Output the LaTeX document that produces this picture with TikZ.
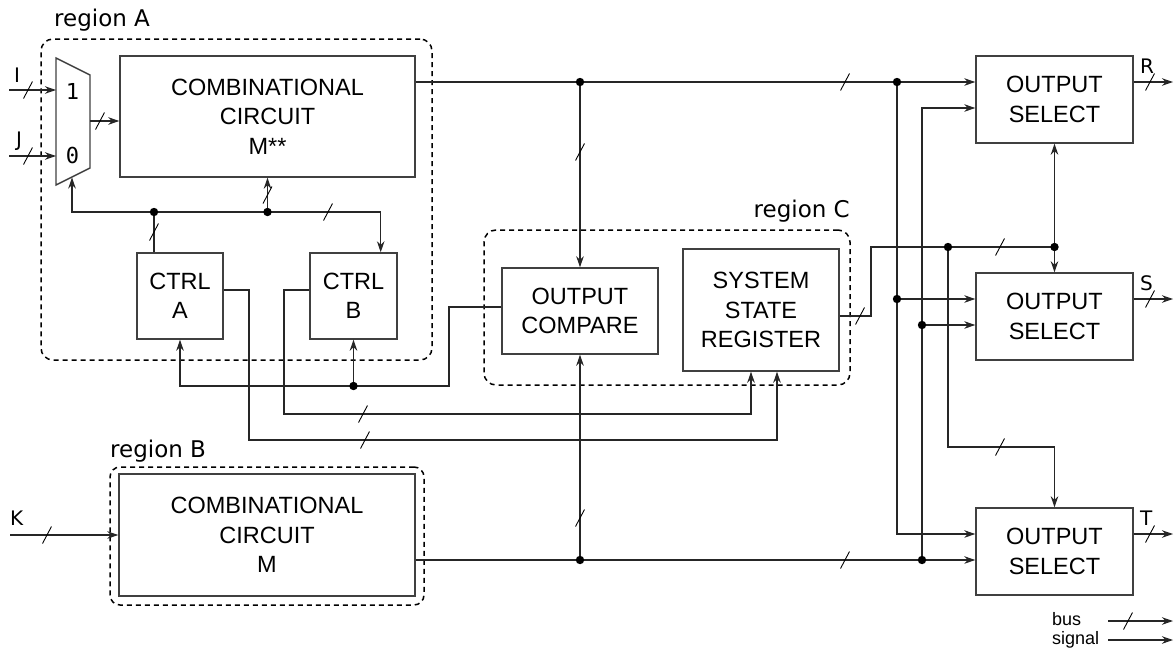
\documentclass[tikz,border=0pt]{standalone}
\usepackage{fontspec}
\setmainfont{Liberation Sans}
\newfontfamily\labelfont{DejaVu Sans}
\newfontfamily\digitfont{DejaVu Sans Mono}
\usetikzlibrary{arrows.meta,calc}

\begin{document}
\begin{tikzpicture}[x=1pt,y=-1pt,
  blk/.style={draw=black!75, line width=1.4pt, inner sep=0pt, align=center,
    font=\fontsize{23.5pt}{29.5pt}\selectfont},
  region/.style={draw=black, line width=1.5pt, dash pattern=on 5pt off 4pt,
    rounded corners=12pt, inner sep=0pt},
  wire/.style={draw=black!85, line width=1.2pt},
  sig/.style={wire, -{Stealth[length=11pt,width=7.5pt,inset=3.5pt]}},
  rlabel/.style={font=\labelfont\fontsize{23pt}{27pt}\selectfont, inner sep=0pt},
  plabel/.style={font=\labelfont\fontsize{20pt}{24pt}\selectfont, inner sep=0pt},
  digit/.style={font=\digitfont\fontsize{22pt}{26pt}\selectfont, inner sep=0pt},
  legend/.style={font=\fontsize{18pt}{18pt}\selectfont, inner sep=0pt},
  busmark/.pic={\draw[black, line width=0.9pt] (-4.5,8.5) -- (4.5,-8.5);}
]
\useasboundingbox (0,0) rectangle (1175,648);

% ---------- dashed regions ----------
\node[region, minimum width=391pt, minimum height=321pt] (regA) at (236.5,199.5) {};
\node[region, minimum width=314pt, minimum height=138pt, rounded corners=10pt] (regB) at (267,536) {};
\node[region, minimum width=366pt, minimum height=155pt] (regC) at (667,307.5) {};
\node[rlabel, anchor=base west] (labA) at (54,26) {region A};
\node[rlabel, anchor=base west] (labB) at (110,457) {region B};
\node[rlabel, anchor=base east] (labC) at (850,217) {region C};

% ---------- blocks ----------
\node[blk, minimum width=295pt, minimum height=121pt] (mss) at (267.5,116.5)
  {COMBINATIONAL\\CIRCUIT\\M**};
\node[blk, minimum width=296pt, minimum height=122pt] (mb) at (267,535)
  {COMBINATIONAL\\CIRCUIT\\M};
\node[blk, minimum width=86pt, minimum height=86pt] (cab) at (180,296) {CTRL\\A};
\node[blk, minimum width=87pt, minimum height=86pt] (cbb) at (353.5,296) {CTRL\\B};
\node[blk, minimum width=156pt, minimum height=86pt] (ocmp) at (580,311) {OUTPUT\\COMPARE};
\node[blk, minimum width=156pt, minimum height=122pt] (ssr) at (761,310)
  {SYSTEM\\STATE\\REGISTER};
\node[blk, minimum width=157pt, minimum height=87pt] (os1) at (1054.5,99.5) {OUTPUT\\SELECT};
\node[blk, minimum width=157pt, minimum height=87pt] (os2) at (1054.5,316.5) {OUTPUT\\SELECT};
\node[blk, minimum width=157pt, minimum height=87pt] (os3) at (1054.5,551.5) {OUTPUT\\SELECT};

% ---------- multiplexer ----------
\coordinate (mA) at (56,58);
\coordinate (mB) at (90,75);
\coordinate (mC) at (90,168);
\coordinate (mD) at (56,185);
\draw[draw=black!75, line width=1.4pt] (mA) -- (mB) -- (mC) -- (mD) -- cycle;
\coordinate (mx1) at (56,90);
\coordinate (mx0) at (56,156);
\coordinate (mxo) at (90,121);
\coordinate (mxs) at (72,177.5);
\node[digit] (d1) at (72.5,91) {1};
\node[digit] (d0) at (72.5,155) {0};

% ---------- junctions and bends ----------
\coordinate (j1) at (580,82);
\coordinate (j2) at (897,82);
\coordinate (j3) at (897,299);
\coordinate (j4) at (922,325);
\coordinate (j5) at (922,560);
\coordinate (j6) at (580,560);
\coordinate (j7) at (948,247);
\coordinate (j8) at (1054.5,247);
\coordinate (j9) at (154,212);
\coordinate (j10) at (267.5,212);
\coordinate (j11) at (353.5,386);
\coordinate (k1) at (871,247);
\coordinate (k2) at (1054.5,447);
\coordinate (k3) at (449,386);
\coordinate (k4) at (284,414);
\coordinate (k5) at (249,440);

% ---------- external inputs / outputs ----------
\coordinate (inI) at (9,90);
\coordinate (inJ) at (9,156);
\coordinate (inK) at (10,535);
\coordinate (outR) at (1173,82);
\coordinate (outS) at (1173,299);
\coordinate (outT) at (1173,534);
\node[plabel, anchor=base] (lI) at (17,82) {I};
\node[plabel, anchor=base] (lJ) at (19,146) {J};
\node[plabel, anchor=base west] (lK) at (10,525) {K};
\node[plabel, anchor=base west] (lR) at (1140,73) {R};
\node[plabel, anchor=base west] (lS) at (1140,290) {S};
\node[plabel, anchor=base west] (lT) at (1140,525) {T};

\draw[sig] (inI) -- (mx1);
\draw[sig] (inJ) -- (mx0);
\draw[sig] (inK) -- (mb.west);
\draw[sig] (mxo) -- (mss.west |- mxo);

% ---------- region A control bus ----------
\draw[sig] (j9) -| (mxs);
\draw[sig] (j9) -- (j10) -| ([xshift=-17pt]cbb.north east);
\draw[sig] (j10) -- (mss.south);
\draw[wire] (j9 |- cab.north) -- (j9);

% ---------- main buses ----------
\draw[sig] (j1 -| mss.east) -- (os1.west |- j1);
\draw[sig] (j1) -- (ocmp.north);
\draw[sig] (j5 -| mb.east) -- (os3.west |- j5);
\draw[sig] (j6) -- (ocmp.south);
\draw[sig] (j2) -- (j3) -- (os2.west |- j3);
\draw[sig] (j3) |- ([yshift=17.5pt]os3.west);
\draw[sig] (j5) -- (j4) -- (os2.west |- j4);
\draw[sig] (j4) |- ([yshift=-8.5pt]os1.west);

% ---------- state register feedback ----------
\draw[wire] ([yshift=-6pt]ssr.east) -| (k1) -- (j8);
\draw[sig] (j8) -- (os1.south);
\draw[sig] (j8) -- (os2.north);
\draw[sig] (j7) |- (k2) -- (os3.north);

% ---------- compare and control paths ----------
\draw[sig] ([yshift=4pt]ocmp.west) -| (k3) -| (cab.south);
\draw[sig] (j11) -- (cbb.south);
\draw[sig] ([yshift=6pt]cbb.west) -| (k4) -| ([xshift=-10pt]ssr.south);
\draw[sig] ([yshift=6pt]cab.east) -| (k5) -| ([xshift=16pt]ssr.south);

% ---------- outputs ----------
\draw[sig] (os1.east |- outR) -- (outR);
\draw[sig] (os2.east |- outS) -- (outS);
\draw[sig] (os3.east |- outT) -- (outT);

% ---------- junction dots ----------
\foreach \j in {j1,j2,j3,j4,j5,j6,j7,j8,j9,j10,j11}
  \fill[black] (\j) circle[radius=4.2];

% ---------- bus width marks ----------
\foreach \p in {(28,90),(28,156),(47,535),(100,121),(154,232),(267.5,195),
  (328,212),(580,152),(845,82),(845,560),(580,518),(860,316),(1000,247),
  (1000,447),(363,414),(365,440),(1150,82),(1150,299),(1150,534)}
  \pic at \p {busmark};

% ---------- legend ----------
\node[legend, anchor=base west] (lgb) at (1052,625) {bus};
\node[legend, anchor=base west] (lgs) at (1052,644) {signal};
\coordinate (lb1) at (1108,621);
\coordinate (lb2) at (1173,621);
\coordinate (ls1) at (1108,640);
\coordinate (ls2) at (1173,640);
\draw[sig] (lb1) -- (lb2);
\draw[sig] (ls1) -- (ls2);
\pic at (1128,621) {busmark};

\end{tikzpicture}
\end{document}
